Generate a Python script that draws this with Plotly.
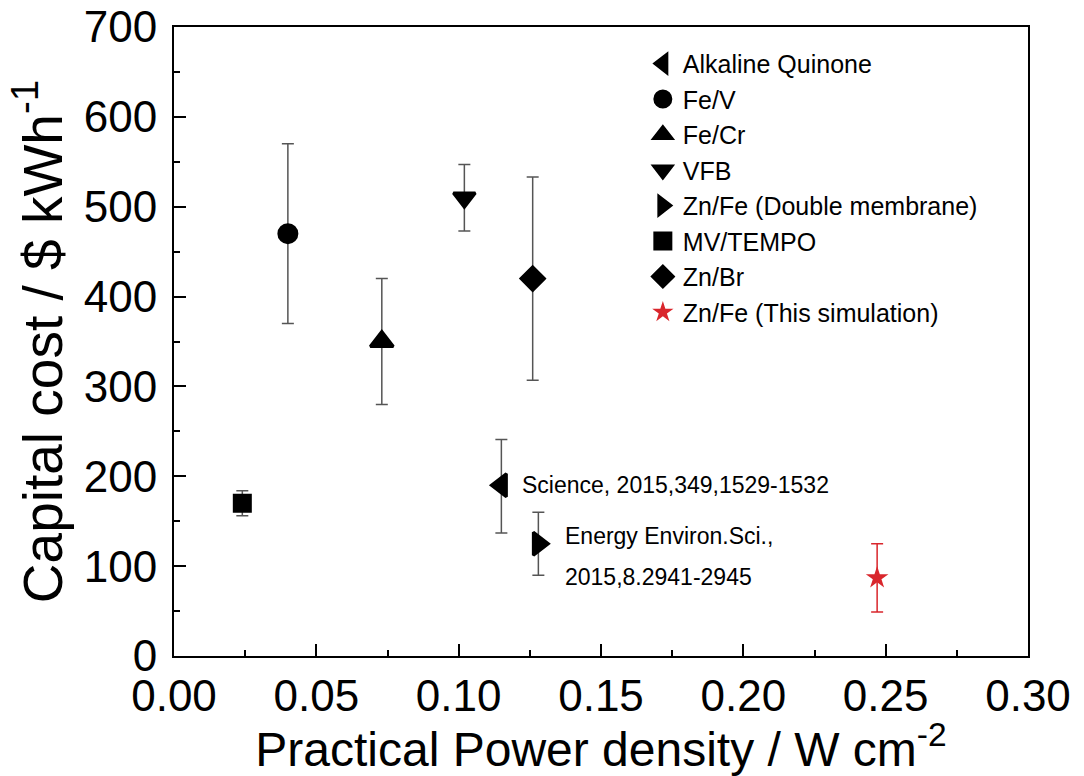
import plotly.graph_objects as go

# ---- data ----
names = ["Alkaline Quinone", "Fe/V", "Fe/Cr", "VFB", "Zn/Fe (Double membrane)",
         "MV/TEMPO", "Zn/Br", "Zn/Fe (This simulation)"]
power = [0.115, 0.040, 0.073, 0.102, 0.128, 0.024, 0.126, 0.247]
cost = [190, 470, 350, 510, 125, 170, 420, 87]
err_plus = [51, 100, 70, 37, 35, 14, 113, 38]
err_minus = [53, 100, 70, 37, 35, 14, 113, 38]

x_ticks = [0.00, 0.05, 0.10, 0.15, 0.20, 0.25, 0.30]
y_ticks = [0, 100, 200, 300, 400, 500, 600, 700]

# ---- styles ----
symbols = ["triangle-left", "circle", "triangle-up", "triangle-down", "triangle-right",
           "square", "diamond", "star"]
msizes = [20, 18, 20, 19, 20, 16, 18, 17]
mlines = [3, 3, 3, 3, 3, 3, 3, 0]
mcolors = ["black"] * 7 + ["#d9262c"]
ecolors = ["#555555"] * 7 + ["#d9262c"]

FONT = "Liberation Sans, Arial, sans-serif"

fig = go.Figure()
for i in range(len(names)):
    fig.add_trace(go.Scatter(
        x=[power[i]], y=[cost[i]], mode="markers", name=names[i],
        marker=dict(symbol=symbols[i], size=msizes[i], color=mcolors[i],
                    line=dict(width=mlines[i], color=mcolors[i])),
        error_y=dict(type="data", symmetric=False, array=[err_plus[i]],
                     arrayminus=[err_minus[i]], color=ecolors[i],
                     thickness=1.5, width=6),
    ))

annots = [
    dict(x=0.1215, y=190, text="Science, 2015,349,1529-1532"),
    dict(x=0.1366, y=133, text="Energy Environ.Sci.,"),
    dict(x=0.1366, y=88, text="2015,8.2941-2945"),
]
for a in annots:
    fig.add_annotation(x=a["x"], y=a["y"], text=a["text"], xref="x", yref="y",
                       xanchor="left", yanchor="middle", showarrow=False,
                       font=dict(family=FONT, size=23, color="black"))

axis_common = dict(
    showline=True, linecolor="black", linewidth=2, mirror=True,
    ticks="inside", ticklen=12, tickwidth=2, tickcolor="black",
    showgrid=False, zeroline=False, ticklabeloverflow="allow",
    tickfont=dict(family=FONT, size=44, color="black"),
)

fig.update_xaxes(
    range=[0, 0.30], tickvals=x_ticks, tickformat=".2f",
    minor=dict(ticks="inside", ticklen=6, tickwidth=2, tickcolor="black", dtick=0.025, tick0=0),
    title=dict(text="Practical Power density / W cm<sup>-2</sup>",
               font=dict(family=FONT, size=48, color="black"), standoff=4),
    ticklabelstandoff=0,
    **axis_common,
)
fig.update_yaxes(
    range=[0, 700], tickvals=y_ticks,
    minor=dict(ticks="inside", ticklen=6, tickwidth=2, tickcolor="black", dtick=50, tick0=0),
    title=dict(text="Capital cost / $ kWh<sup>-1</sup>",
               font=dict(family=FONT, size=55, color="black"), standoff=4),
    ticklabelstandoff=6,
    **axis_common,
)

fig.update_layout(
    width=1084, height=776,
    margin=dict(l=174, r=56, t=27, b=120, autoexpand=False),
    paper_bgcolor="white", plot_bgcolor="white",
    font=dict(family=FONT, color="black"),
    showlegend=True,
    legend=dict(x=0.549, y=0.978, xanchor="left", yanchor="top",
                bgcolor="rgba(0,0,0,0)", borderwidth=0,
                font=dict(family=FONT, size=25, color="black"),
                itemsizing="trace"),
)

fig.write_html("out.html", config={"displayModeBar": False},
               post_script="document.body.style.margin='0';document.body.style.overflow='hidden';")
